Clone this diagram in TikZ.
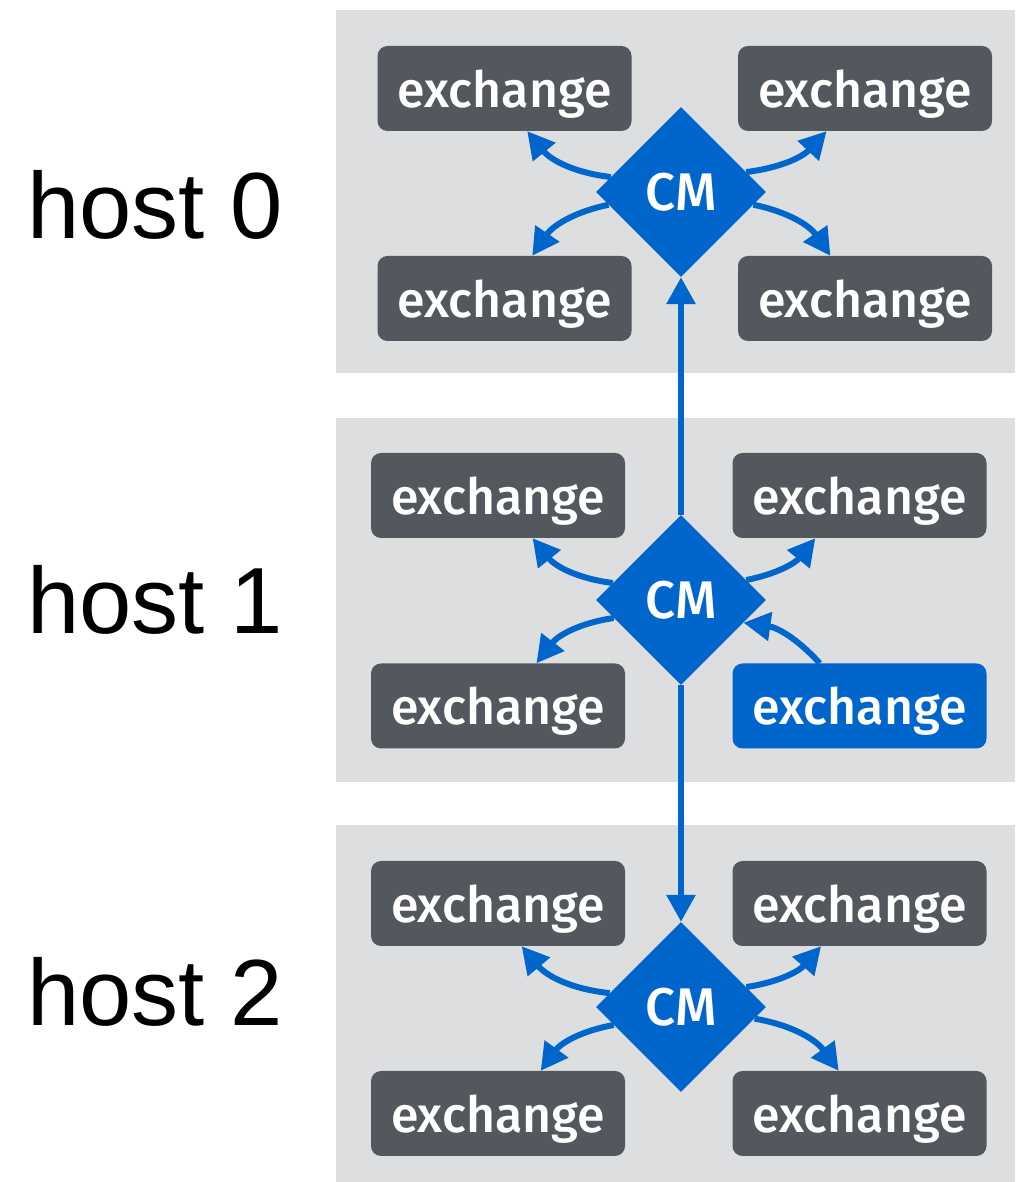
\documentclass[tikz,border=0pt]{standalone}
\usepackage{fontspec}
\usetikzlibrary{shapes.geometric,arrows.meta}
\newfontfamily\hostfont{Liberation Sans}
\newfontfamily\boxfont{Fira Sans Medium}
\definecolor{cmblue}{HTML}{0066CC}
\definecolor{boxgray}{HTML}{53575E}
\definecolor{panelgray}{HTML}{DDDEE0}
\tikzset{
  panel/.style={fill=panelgray, draw=none},
  exbox/.style={rectangle, rounded corners=10pt, fill=boxgray, text=white,
    minimum width=254pt, minimum height=85pt, inner sep=0pt,
    text height=41pt, text depth=3pt,
    font=\boxfont\fontsize{50}{50}\selectfont},
  exactive/.style={exbox, fill=cmblue},
  cmnode/.style={diamond, fill=cmblue, text=white, minimum width=170pt,
    minimum height=170pt, inner sep=0pt, text height=38pt, text depth=0pt,
    font=\boxfont\fontsize{53}{53}\selectfont},
  hostlabel/.style={anchor=base west, inner sep=0pt,
    font=\hostfont\fontsize{94}{94}\selectfont},
  flow/.style={draw=cmblue, line width=6pt,
    -{Triangle[length=27pt,width=28pt]}},
}
\begin{document}
\begin{tikzpicture}[x=1pt,y=1pt]
\useasboundingbox (0,0) rectangle (1015,1182);

% host panels
\fill[panel] (336,809) rectangle (1015,1172);
\fill[panel] (336,400) rectangle (1015,764);
\fill[panel] (336,0) rectangle (1015,357);

% host labels
\node[hostlabel] (h0) at (27,943) {host 0};
\node[hostlabel] (h1) at (27,548) {host 1};
\node[hostlabel] (h2) at (27,156) {host 2};

% host 0
\node[exbox] (tl0) at (504.5,1093.5) {exchange};
\node[exbox] (tr0) at (865,1093.5) {exchange};
\node[exbox] (bl0) at (504.5,883.5) {exchange};
\node[exbox] (br0) at (865,883.5) {exchange};
\node[cmnode] (cm0) at (681,990) {CM};

% host 1
\node[exbox] (tl1) at (498,686.5) {exchange};
\node[exbox] (tr1) at (859.5,686.5) {exchange};
\node[exbox] (bl1) at (498,476) {exchange};
\node[exactive] (br1) at (859.5,476) {exchange};
\node[cmnode] (cm1) at (681,582) {CM};

% host 2
\node[exbox] (tl2) at (498,278.5) {exchange};
\node[exbox] (tr2) at (859.5,278.5) {exchange};
\node[exbox] (bl2) at (498,68.5) {exchange};
\node[exbox] (br2) at (859.5,68.5) {exchange};
\node[cmnode] (cm2) at (681,175) {CM};

% links between the managers
\draw[flow] (cm1.north) -- (cm0.south);
\draw[flow] (cm1.south) -- (cm2.north);

% host 0 fan-out
\draw[flow] (cm0.168) to[bend left=22] (tl0.-62);
\draw[flow] (cm0.17) to[bend right=20] (tr0.228);
\draw[flow] (cm0.190) to[bend right=22] (bl0.57);
\draw[flow] (cm0.-10) to[bend left=22] (br0.129);

% host 1 fan-out and the active exchange
\draw[flow] (cm1.166) to[bend left=22] (tl1.-51);
\draw[flow] (cm1.17) to[bend right=20] (tr1.224);
\draw[flow] (cm1.195) to[bend right=22] (bl1.48);
\draw[flow] (br1.133) to[bend right=20] (cm1.-20);

% host 2 fan-out
\draw[flow] (cm2.169) to[bend left=22] (tl2.-61);
\draw[flow] (cm2.17) to[bend right=20] (tr2.228);
\draw[flow] (cm2.195) to[bend right=22] (bl2.45);
\draw[flow] (cm2.-9) to[bend left=22] (br2.116);
\end{tikzpicture}
\end{document}
